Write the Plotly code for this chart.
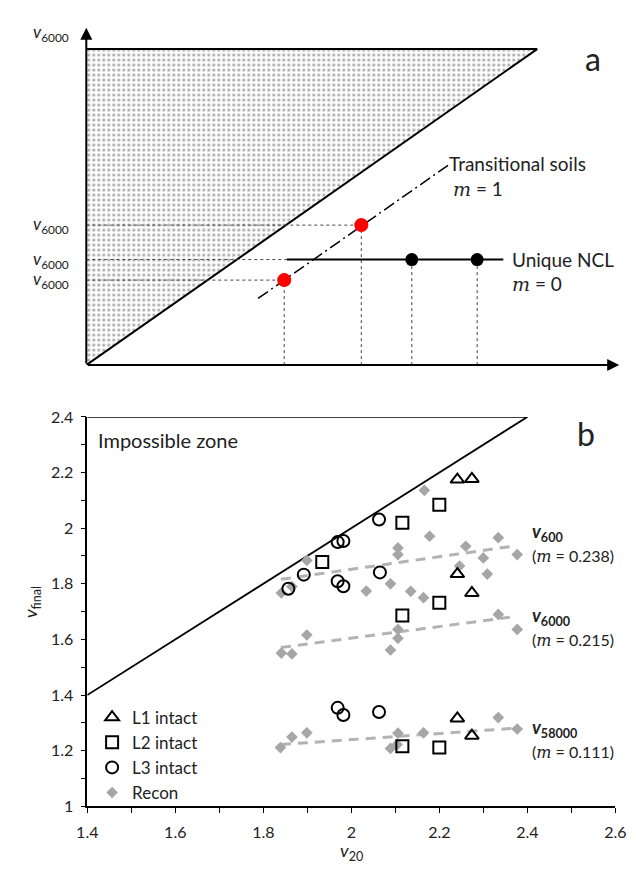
import plotly.graph_objects as go

# ---------------- Panel b data ----------------
l1_x = [2.241, 2.274, 2.241, 2.274, 2.241, 2.274]
l1_y = [2.175, 2.177, 1.835, 1.767, 1.316, 1.254]

l2_x = [1.934, 2.116, 2.200, 2.116, 2.200, 2.116, 2.200]
l2_y = [1.878, 2.020, 2.084, 1.686, 1.732, 1.216, 1.211]

l3_x = [1.969, 1.982, 2.063, 1.892, 1.857, 1.969, 1.982, 2.065, 1.969, 1.982, 2.063]
l3_y = [1.950, 1.954, 2.031, 1.833, 1.782, 1.809, 1.791, 1.841, 1.354, 1.328, 1.339]

recon_x = [1.899, 2.166, 2.178, 2.106, 2.106, 2.260, 2.334, 2.300, 2.377, 2.246, 2.309,
           1.841, 2.034, 2.089, 2.135, 2.164, 1.865,
           2.334, 2.377, 2.106, 2.106, 2.089, 1.899, 1.841, 1.865,
           1.839, 1.865, 1.899, 2.106, 2.164, 2.089, 2.104, 2.334, 2.377]
recon_y = [1.884, 2.136, 1.971, 1.929, 1.905, 1.935, 1.966, 1.893, 1.905, 1.864, 1.835,
           1.767, 1.774, 1.800, 1.773, 1.750, 1.790,
           1.690, 1.636, 1.636, 1.604, 1.562, 1.616, 1.551, 1.548,
           1.211, 1.249, 1.264, 1.263, 1.264, 1.208, 1.222, 1.319, 1.278]

trend_x = [1.84, 2.375]
trend_v600 = [1.816, 1.937]
trend_v6000 = [1.571, 1.683]
trend_v58000 = [1.222, 1.281]

side_names = ["600", "6000", "58000"]
side_slopes = ["0.238", "0.215", "0.111"]

bound_x = [1.4, 2.4, 1.4]
bound_y = [1.4, 2.4, 2.4]

x_ticks = [1.4, 1.5, 1.6, 1.7, 1.8, 1.9, 2.0, 2.1, 2.2, 2.3, 2.4, 2.5, 2.6]
x_ticktext = ["1.4", "", "1.6", "", "1.8", "", "2", "", "2.2", "", "2.4", "", "2.6"]
y_ticks = [1.0, 1.1, 1.2, 1.3, 1.4, 1.5, 1.6, 1.7, 1.8, 1.9, 2.0, 2.1, 2.2, 2.3, 2.4]
y_ticktext = ["1", "", "1.2", "", "1.4", "", "1.6", "", "1.8", "", "2", "", "2.2", "", "2.4"]

# ---------------- Panel a (schematic) data ----------------
zone_x = [0, 1, 0, 0]
zone_y = [0, 1, 1, 0]
edge_x = [0, 1, 0]
edge_y = [1, 1, 0]
red_x = [0.439, 0.610]
red_y = [0.269, 0.443]
black_x = [0.722, 0.867]
black_y = [0.334, 0.334]
ncl_x = [0.445, 0.925]
ncl_y = [0.334, 0.334]
trans_x = [0.381, 0.805]
trans_y = [0.211, 0.635]
a_ylabel_vals = [1.05, 0.443, 0.334, 0.269]
a_xlabel_vals = red_x + black_x

FONT = "Lato"
SERIF = "DejaVu Serif"
TXT = "#222222"

fig = go.Figure()

# ---- panel a ----
fig.add_trace(go.Scatter(x=zone_x, y=zone_y, xaxis="x2", yaxis="y2", mode="lines",
                         fill="toself", fillcolor="white",
                         fillpattern=dict(shape=".", fgcolor="#555555", bgcolor="white",
                                          size=5, solidity=0.3),
                         line=dict(width=0), showlegend=False, hoverinfo="skip"))
fig.add_trace(go.Scatter(x=edge_x, y=edge_y, xaxis="x2", yaxis="y2", mode="lines",
                         line=dict(color="black", width=2), showlegend=False, hoverinfo="skip"))

gx, gy = [], []
for xv, yv in zip(red_x, red_y):
    gx += [xv, xv, None, 0, xv, None]
    gy += [0, yv, None, yv, yv, None]
for xv, yv in zip(black_x, black_y):
    gx += [xv, xv, None]
    gy += [0, yv, None]
gx += [0, ncl_x[0], None]
gy += [ncl_y[0], ncl_y[0], None]
fig.add_trace(go.Scatter(x=gx, y=gy, xaxis="x2", yaxis="y2", mode="lines",
                         line=dict(color="#444444", width=1, dash="dot"),
                         showlegend=False, hoverinfo="skip"))
fig.add_trace(go.Scatter(x=ncl_x, y=ncl_y, xaxis="x2", yaxis="y2", mode="lines",
                         line=dict(color="black", width=2), showlegend=False, hoverinfo="skip"))
fig.add_trace(go.Scatter(x=trans_x, y=trans_y, xaxis="x2", yaxis="y2", mode="lines",
                         line=dict(color="black", width=1.5, dash="12px,4px,2px,4px"),
                         showlegend=False, hoverinfo="skip"))
fig.add_trace(go.Scatter(x=red_x, y=red_y, xaxis="x2", yaxis="y2", mode="markers",
                         marker=dict(color="#ff0000", size=14), showlegend=False, hoverinfo="skip"))
fig.add_trace(go.Scatter(x=black_x, y=black_y, xaxis="x2", yaxis="y2", mode="markers",
                         marker=dict(color="black", size=13), showlegend=False, hoverinfo="skip"))

# ---- panel b ----
fig.add_trace(go.Scatter(x=bound_x, y=bound_y, mode="lines",
                         line=dict(color="black", width=1.8), showlegend=False, hoverinfo="skip"))
for ty in (trend_v600, trend_v6000, trend_v58000):
    fig.add_trace(go.Scatter(x=trend_x, y=ty, mode="lines",
                             line=dict(color="#b3b3b3", width=3, dash="10px,7px"),
                             showlegend=False, hoverinfo="skip"))
fig.add_trace(go.Scatter(x=recon_x, y=recon_y, mode="markers", name="Recon", legendrank=4,
                         marker=dict(symbol="diamond", color="#a6a6a6", size=9)))
fig.add_trace(go.Scatter(x=l1_x, y=l1_y, mode="markers", name="L1 intact", legendrank=1,
                         marker=dict(symbol="triangle-up-open", color="black", size=12,
                                     line=dict(width=2, color="black"))))
fig.add_trace(go.Scatter(x=l2_x, y=l2_y, mode="markers", name="L2 intact", legendrank=2,
                         marker=dict(symbol="square-open", color="black", size=12,
                                     line=dict(width=2, color="black"))))
fig.add_trace(go.Scatter(x=l3_x, y=l3_y, mode="markers", name="L3 intact", legendrank=3,
                         marker=dict(symbol="circle-open", color="black", size=12,
                                     line=dict(width=2, color="black"))))

ann = []
ann.append(dict(x=0, y=1.068, ax=0, ay=0, xref="x2", yref="y2", axref="x2", ayref="y2",
                showarrow=True, arrowhead=2, arrowsize=1.2, arrowwidth=2, arrowcolor="black", text=""))
ann.append(dict(x=1.182, y=0, ax=0, ay=0, xref="x2", yref="y2", axref="x2", ayref="y2",
                showarrow=True, arrowhead=2, arrowsize=1.2, arrowwidth=2, arrowcolor="black", text=""))
for yv in a_ylabel_vals:
    ann.append(dict(x=0.097, y=yv, xref="paper", yref="y2", xanchor="right", yanchor="middle",
                    text="<i>v</i><sub>6000</sub>", showarrow=False,
                    font=dict(family=FONT, size=17, color=TXT)))
for xv in a_xlabel_vals:
    ann.append(dict(x=xv, y=-0.077, xref="x2", yref="y2", xanchor="center", yanchor="middle",
                    text="<i>v</i><sub>20</sub>", showarrow=False,
                    font=dict(family=FONT, size=18, color=TXT)))
ann.append(dict(x=0.80, y=0.638, xref="x2", yref="y2", xanchor="left", yanchor="middle",
                text="Transitional soils", showarrow=False, font=dict(family=FONT, size=19, color=TXT)))
ann.append(dict(x=0.81, y=0.560, xref="x2", yref="y2", xanchor="left", yanchor="middle",
                text=f"<span style=\"font-family:{SERIF}\"><i>m</i></span> = 1", showarrow=False,
                font=dict(family=FONT, size=19, color=TXT)))
ann.append(dict(x=0.94, y=0.334, xref="x2", yref="y2", xanchor="left", yanchor="middle",
                text="Unique NCL", showarrow=False, font=dict(family=FONT, size=19, color=TXT)))
ann.append(dict(x=0.94, y=0.258, xref="x2", yref="y2", xanchor="left", yanchor="middle",
                text=f"<span style=\"font-family:{SERIF}\"><i>m</i></span> = 0", showarrow=False,
                font=dict(family=FONT, size=19, color=TXT)))
ann.append(dict(x=603 / 636, y=1 - 50 / 873, xref="paper", yref="paper", xanchor="center",
                yanchor="middle", text="a", showarrow=False, font=dict(family=FONT, size=32, color=TXT)))

ann.append(dict(x=88 / 636, y=1 - 440 / 873, xref="paper", yref="paper", xanchor="left",
                yanchor="middle", text="Impossible zone", showarrow=False,
                font=dict(family=FONT, size=20, color=TXT)))
ann.append(dict(x=596 / 636, y=1 - 433 / 873, xref="paper", yref="paper", xanchor="center",
                yanchor="middle", text="b", showarrow=False, font=dict(family=FONT, size=32, color=TXT)))
label_py = [534, 620, 734]
for sub, mval, py in zip(side_names, side_slopes, label_py):
    ann.append(dict(x=538 / 636, y=1 - py / 873, xref="paper", yref="paper", xanchor="left",
                    yanchor="middle", text=f"<b><i>v</i><sub>{sub}</sub></b>", showarrow=False,
                    font=dict(family=FONT, size=18, color=TXT)))
    ann.append(dict(x=538 / 636, y=1 - (py + 24) / 873, xref="paper", yref="paper", xanchor="left",
                    yanchor="middle",
                    text=f"(<span style=\"font-family:{SERIF}\"><i>m</i></span> = {mval})",
                    showarrow=False, font=dict(family=FONT, size=16, color=TXT)))
ann.append(dict(x=22 / 636, y=1 - 605 / 873, xref="paper", yref="paper", xanchor="center",
                yanchor="middle", textangle=-90, text="<i>v</i><sub>final</sub>", showarrow=False,
                font=dict(family=FONT, size=18, color=TXT)))
ann.append(dict(x=2.0, y=1 - 860 / 873, xref="x", yref="paper", xanchor="center",
                yanchor="middle", text="<i>v</i><sub>20</sub>", showarrow=False,
                font=dict(family=FONT, size=18, color=TXT)))

fig.update_layout(
    width=636, height=873, margin=dict(l=0, r=0, t=0, b=0),
    paper_bgcolor="white", plot_bgcolor="rgba(0,0,0,0)",
    font=dict(family=FONT, size=15, color=TXT),
    xaxis=dict(domain=[79 / 636, 626 / 636], range=[1.4, 2.6], tickvals=x_ticks, ticktext=x_ticktext,
               ticks="outside", ticklen=5, tickwidth=1, tickcolor="black", showgrid=False,
               zeroline=False, showline=True, linecolor="black", linewidth=1.5,
               ticklabelstandoff=6, ticklabeloverflow="allow",
               tickfont=dict(size=16, color=TXT), anchor="y"),
    yaxis=dict(domain=[(873 - 814) / 873, (873 - 416) / 873], range=[1, 2.4], tickvals=y_ticks,
               ticktext=y_ticktext, ticks="outside", ticklen=5, tickwidth=1, tickcolor="black",
               showgrid=False, zeroline=False, showline=True, linecolor="black", linewidth=1.5,
               ticklabelstandoff=4, ticklabeloverflow="allow",
               tickfont=dict(size=16, color=TXT), anchor="x"),
    xaxis2=dict(domain=[78 / 636, 0.9964], range=[0, 1.19], visible=False, anchor="y2"),
    yaxis2=dict(domain=[(873 - 363) / 873, 0.9912], range=[0, 1.1], visible=False, anchor="x2"),
    legend=dict(x=84 / 636, y=1 - 705 / 873, xanchor="left", yanchor="top",
                font=dict(family=FONT, size=17, color=TXT),
                bgcolor="rgba(0,0,0,0)", itemwidth=30, tracegroupgap=0),
    annotations=ann,
)

fig.write_html("out.html")
